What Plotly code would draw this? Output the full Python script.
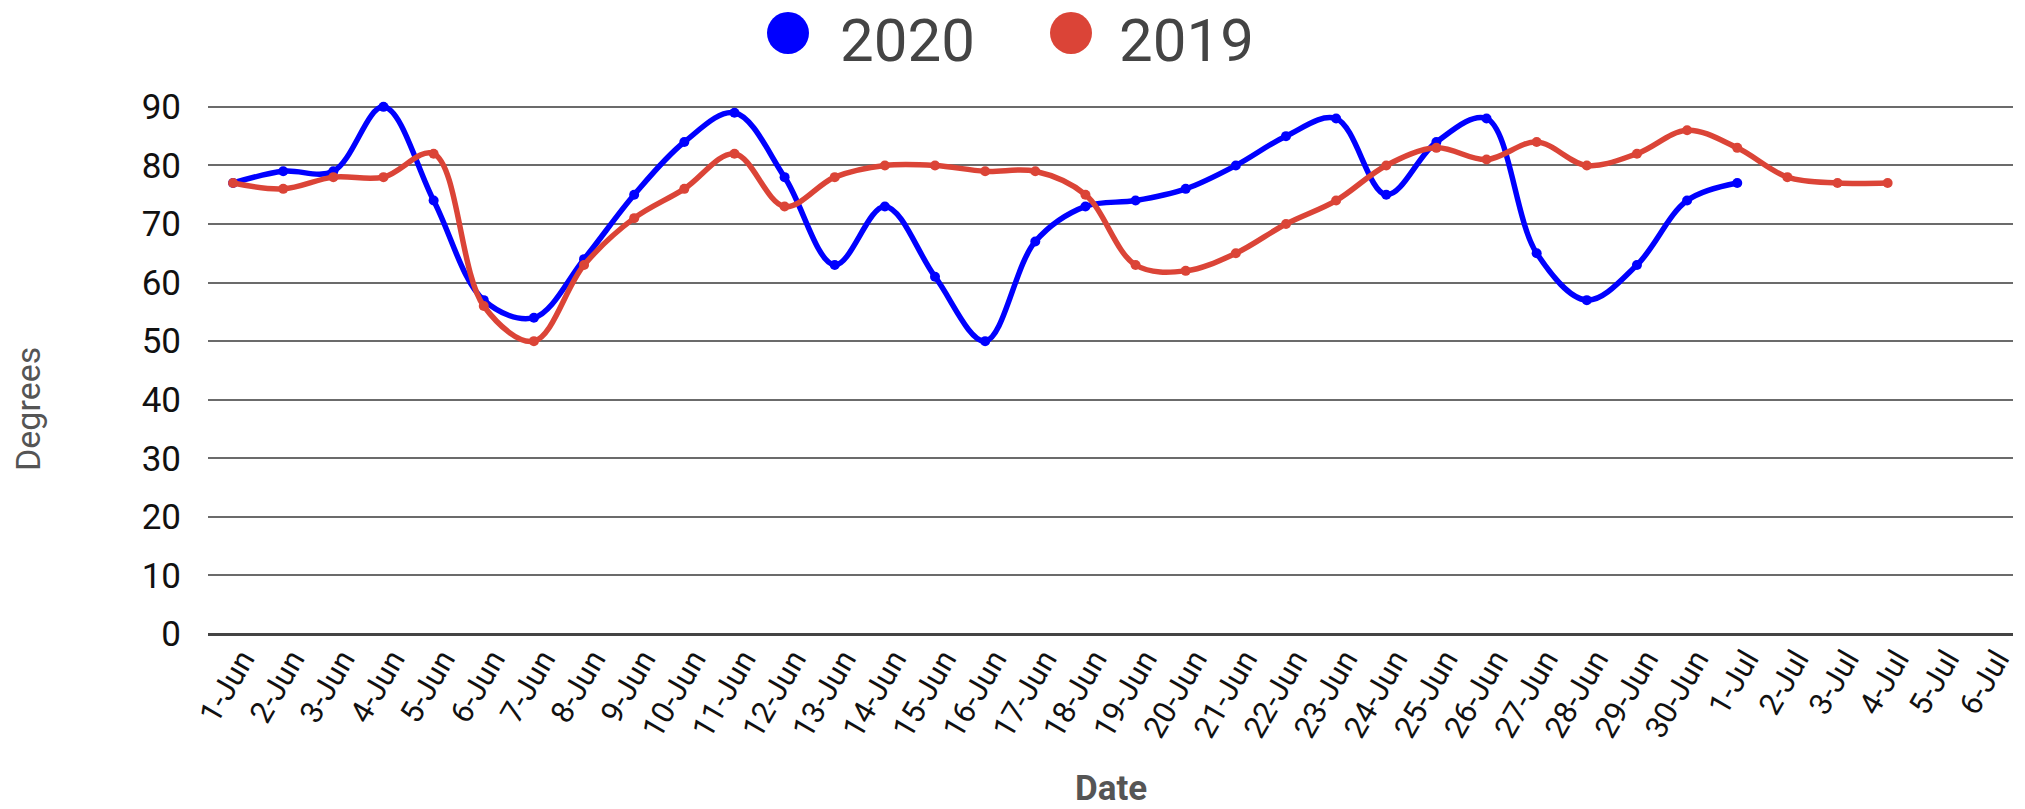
import plotly.graph_objects as go

dates = ["1-Jun", "2-Jun", "3-Jun", "4-Jun", "5-Jun", "6-Jun", "7-Jun", "8-Jun", "9-Jun",
         "10-Jun", "11-Jun", "12-Jun", "13-Jun", "14-Jun", "15-Jun", "16-Jun", "17-Jun",
         "18-Jun", "19-Jun", "20-Jun", "21-Jun", "22-Jun", "23-Jun", "24-Jun", "25-Jun",
         "26-Jun", "27-Jun", "28-Jun", "29-Jun", "30-Jun", "1-Jul", "2-Jul", "3-Jul",
         "4-Jul", "5-Jul", "6-Jul"]

temps_2020 = [77, 79, 79, 90, 74, 57, 54, 64, 75, 84, 89, 78, 63, 73, 61, 50, 67, 73, 74,
              76, 80, 85, 88, 75, 84, 88, 65, 57, 63, 74, 77]

temps_2019 = [77, 76, 78, 78, 82, 56, 50, 63, 71, 76, 82, 73, 78, 80, 80, 79, 79, 75, 63,
              62, 65, 70, 74, 80, 83, 81, 84, 80, 82, 86, 83, 78, 77, 77]

series_names = ["2020", "2019"]
series_colors = ["#0000FF", "#DB4437"]
y_ticks = [0, 10, 20, 30, 40, 50, 60, 70, 80, 90]

FONT = "Roboto"
# the page body adds an 8px offset, so the figure is 8px smaller than the window
W, H = 2017, 801
ML, MR, MT, MB = 200, 12, 93, 175
PW, PH = W - ML - MR, H - MT - MB


def px_to_paper(px, py):
    return (px - ML) / PW, (H - MB - py) / PH


fig = go.Figure()
for name, vals, col in zip(series_names, [temps_2020, temps_2019], series_colors):
    fig.add_trace(go.Scatter(
        x=dates[:len(vals)], y=vals, name=name, mode="lines+markers",
        line=dict(color=col, width=5.5, shape="spline", smoothing=1.0),
        marker=dict(color=col, size=10),
        showlegend=False,
    ))

# Custom legend (large circles + text)
legend_items = [(780, 831), (1063, 1110)]
shapes = []
annotations = []
for (cx, tx), name, col in zip(legend_items, series_names, series_colors):
    ax, ay = px_to_paper(cx, 25)
    shapes.append(dict(type="circle", xref="paper", yref="paper", xsizemode="pixel",
                       ysizemode="pixel", xanchor=ax, yanchor=ay, x0=-21, x1=21, y0=-21, y1=21,
                       fillcolor=col, line=dict(width=0)))
    txp, typ = px_to_paper(tx, 32)
    annotations.append(dict(text=name, xref="paper", yref="paper", x=txp, y=typ,
                            xanchor="left", yanchor="middle", showarrow=False, borderpad=0,
                            font=dict(family=FONT, size=60, color="#444444")))

dx, dy = px_to_paper(1103, 780)
annotations.append(dict(text="<b>Date</b>", xref="paper", yref="paper", x=0.5, y=dy,
                        xanchor="center", yanchor="middle", showarrow=False,
                        font=dict(family=FONT, size=35, color="#555555")))
gx, gy = px_to_paper(20, 401)
annotations.append(dict(text="Degrees", xref="paper", yref="paper", x=gx, y=gy, textangle=-90,
                        xanchor="center", yanchor="middle", showarrow=False,
                        font=dict(family=FONT, size=34, color="#555555")))

fig.update_layout(
    width=W, height=H,
    margin=dict(l=ML, r=MR, t=MT, b=MB),
    paper_bgcolor="white", plot_bgcolor="white",
    shapes=shapes, annotations=annotations,
    showlegend=False,
)
fig.update_xaxes(
    type="category", categoryorder="array", categoryarray=dates,
    tickmode="array", tickvals=dates, ticktext=dates,
    range=[-0.5, len(dates) - 0.5], tickangle=-60,
    tickfont=dict(family=FONT, size=31, color="#111111"),
    ticklabelshift=9,
    showgrid=False, showline=False, ticks="", zeroline=False, automargin=False,
)
fig.update_yaxes(
    range=[0, 91], tickvals=y_ticks,
    tickfont=dict(family=FONT, size=35, color="#111111"),
    showgrid=True, gridcolor="#6b6b6b", gridwidth=2,
    zeroline=True, zerolinecolor="#444444", zerolinewidth=3,
    showline=False, ticks="", ticklabelstandoff=26, automargin=False,
)

fig.write_html("out.html")
